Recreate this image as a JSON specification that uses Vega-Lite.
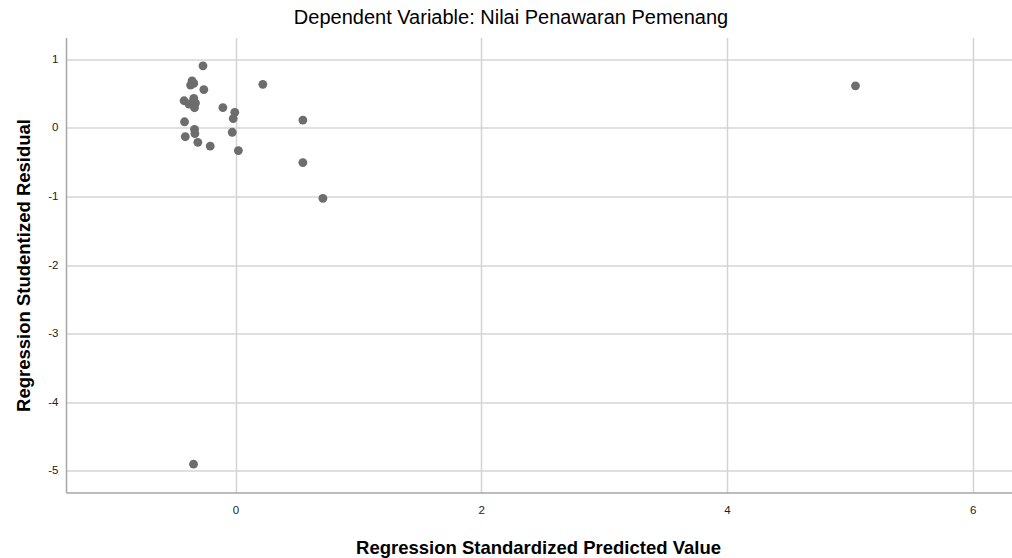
{
  "$schema": "https://vega.github.io/schema/vega-lite/v6.json",
  "width": 946,
  "height": 455,
  "autosize": "none",
  "padding": {"left": 66, "top": 37.5, "right": 0, "bottom": 65},
  "background": "white",
  "title": {
    "text": "Dependent Variable: Nilai Penawaran Pemenang",
    "font": "Liberation Sans",
    "fontSize": 20,
    "fontWeight": "normal",
    "color": "#000000",
    "anchor": "middle",
    "offset": 10,
    "dx": -28
  },
  "config": {"view": {"stroke": null}},
  "data": {
    "values": [
      {"predicted": -0.265, "residual": 0.906},
      {"predicted": -0.354, "residual": 0.688},
      {"predicted": -0.366, "residual": 0.626},
      {"predicted": -0.340, "residual": 0.650},
      {"predicted": -0.258, "residual": 0.560},
      {"predicted": 0.222, "residual": 0.636},
      {"predicted": -0.419, "residual": 0.397},
      {"predicted": -0.340, "residual": 0.432},
      {"predicted": -0.379, "residual": 0.349},
      {"predicted": -0.334, "residual": 0.295},
      {"predicted": -0.326, "residual": 0.363},
      {"predicted": -0.103, "residual": 0.297},
      {"predicted": -0.006, "residual": 0.228},
      {"predicted": -0.019, "residual": 0.137},
      {"predicted": -0.415, "residual": 0.090},
      {"predicted": 0.548, "residual": 0.115},
      {"predicted": -0.334, "residual": -0.020},
      {"predicted": -0.331, "residual": -0.082},
      {"predicted": -0.409, "residual": -0.128},
      {"predicted": -0.307, "residual": -0.210},
      {"predicted": -0.027, "residual": -0.063},
      {"predicted": -0.206, "residual": -0.264},
      {"predicted": 0.023, "residual": -0.330},
      {"predicted": 0.548, "residual": -0.505},
      {"predicted": 0.711, "residual": -1.027},
      {"predicted": 5.046, "residual": 0.615},
      {"predicted": -0.342, "residual": -4.906}
    ]
  },
  "mark": {"type": "circle", "size": 78, "color": "#6d6d6d", "opacity": 1},
  "encoding": {
    "x": {
      "field": "predicted",
      "type": "quantitative",
      "scale": {"domain": [-1.38, 6.32], "nice": false, "zero": false},
      "axis": {
        "values": [0, 2, 4, 6],
        "labelExpr": "datum.value + ''",
        "grid": true,
        "gridColor": "#d4d4d4",
        "gridWidth": 1.5,
        "domainColor": "#a6a6a6",
        "domainWidth": 1.5,
        "ticks": false,
        "labelPadding": 12,
        "labelFont": "Liberation Sans",
        "labelFontSize": 11.5,
        "labelColor": "#222222",
        "title": "Regression Standardized Predicted Value",
        "titleFont": "Liberation Sans",
        "titleFontSize": 18.5,
        "titleFontWeight": "bold",
        "titleColor": "#000000",
        "titlePadding": 22,
        "titleX": 472
      }
    },
    "y": {
      "field": "residual",
      "type": "quantitative",
      "scale": {"domain": [-5.32, 1.32], "nice": false, "zero": false},
      "axis": {
        "values": [1, 0, -1, -2, -3, -4, -5],
        "labelExpr": "datum.value + ''",
        "grid": true,
        "gridColor": "#d4d4d4",
        "gridWidth": 1.5,
        "domainColor": "#a6a6a6",
        "domainWidth": 1.5,
        "ticks": false,
        "labelPadding": 8,
        "labelFont": "Liberation Sans",
        "labelFontSize": 11.5,
        "labelColor": "#222222",
        "title": "Regression Studentized Residual",
        "titleFont": "Liberation Sans",
        "titleFontSize": 18.5,
        "titleFontWeight": "bold",
        "titleColor": "#000000",
        "titlePadding": 14
      }
    }
  }
}
